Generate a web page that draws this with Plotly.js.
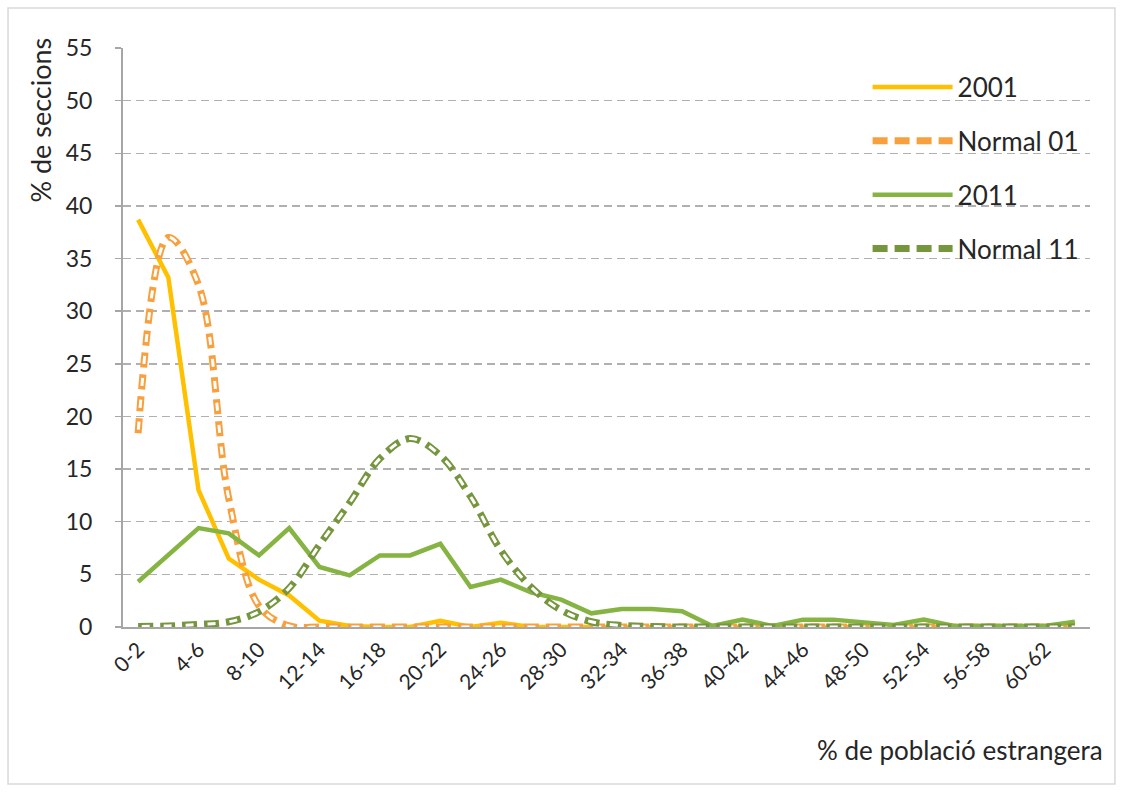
<!DOCTYPE html>
<html>
<head>
<meta charset="utf-8">
<script src="https://cdn.plot.ly/plotly-3.0.1.min.js"></script>
<style>html,body{margin:0;padding:0;background:#fff;}#chart{width:1123px;height:792px;}</style>
</head>
<body>
<div id="chart"></div>
<script>
const categories = ['0-2','2-4','4-6','6-8','8-10','10-12','12-14','14-16','16-18','18-20','20-22','22-24','24-26','26-28','28-30','30-32','32-34','34-36','36-38','38-40','40-42','42-44','44-46','46-48','48-50','50-52','52-54','54-56','56-58','58-60','60-62','62-64'];
const tickLabels = ['0-2','4-6','8-10','12-14','16-18','20-22','24-26','28-30','32-34','36-38','40-42','44-46','48-50','52-54','56-58','60-62'];
const s2001 = [38.7, 33.2, 13.0, 6.5, 4.5, 3.0, 0.6, 0.1, 0, 0, 0.6, 0, 0.4, 0, 0, 0, 0, 0, 0, 0, 0, 0, 0, 0, 0, 0, 0, 0, 0, 0, 0, 0];
const normal01 = [18.4, 37.0, 32.5, 12.2, 2.0, 0.1, 0, 0, 0, 0, 0, 0, 0, 0, 0, 0, 0, 0, 0, 0, 0, 0, 0, 0, 0, 0, 0, 0, 0, 0, 0, 0];
const s2011 = [4.3, 6.8, 9.4, 8.9, 6.8, 9.4, 5.7, 4.9, 6.8, 6.8, 7.9, 3.8, 4.5, 3.3, 2.6, 1.3, 1.7, 1.7, 1.5, 0.1, 0.7, 0.1, 0.7, 0.7, 0.4, 0.2, 0.7, 0.1, 0.1, 0.1, 0.1, 0.5];
const normal11 = [0.05, 0.1, 0.25, 0.5, 1.45, 3.7, 7.8, 11.8, 16.0, 17.9, 16.3, 12.4, 7.3, 3.8, 1.6, 0.5, 0.15, 0.05, 0, 0, 0, 0, 0, 0, 0, 0, 0, 0, 0, 0, 0, 0];
const yTicks = [0,5,10,15,20,25,30,35,40,45,50,55];

const FONT = 'Lato, "Open Sans", sans-serif';
const TXT = '#262626';
const outerDash = '15px,7px';
const innerDash = '0px,3.5px,8px,10.5px';

const traces = [
  {x: categories, y: s2001, name: '2001', mode: 'lines', legendgroup: 'a',
   line: {color: '#FFC000', width: 4.5}},
  {x: categories, y: normal01, name: 'Normal 01', mode: 'lines', legendgroup: 'b',
   line: {color: '#F9A03E', width: 7, dash: outerDash, shape: 'spline', smoothing: 1}},
  {x: categories, y: normal01, name: 'Normal 01 inner', mode: 'lines', legendgroup: 'b', showlegend: false,
   hoverinfo: 'skip', line: {color: '#ffffff', width: 3, dash: innerDash, shape: 'spline', smoothing: 1}},
  {x: categories, y: s2011, name: '2011', mode: 'lines', legendgroup: 'c',
   line: {color: '#86B443', width: 4.5}},
  {x: categories, y: normal11, name: 'Normal 11', mode: 'lines', legendgroup: 'd',
   line: {color: '#76963E', width: 7, dash: outerDash, shape: 'spline', smoothing: 1}},
  {x: categories, y: normal11, name: 'Normal 11 inner', mode: 'lines', legendgroup: 'd', showlegend: false,
   hoverinfo: 'skip', line: {color: '#ffffff', width: 3, dash: innerDash, shape: 'spline', smoothing: 1}}
];

const layout = {
  width: 1123, height: 792,
  paper_bgcolor: '#ffffff', plot_bgcolor: '#ffffff',
  margin: {l: 123, r: 33, t: 48, b: 165},
  font: {family: FONT, color: TXT, size: 20},
  showlegend: true,
  legend: {x: 0.77, y: 0.973, xanchor: 'left', yanchor: 'top', bgcolor: 'rgba(0,0,0,0)',
           font: {family: FONT, size: 26, color: TXT}, traceorder: 'grouped', tracegroupgap: 17, itemwidth: 80},
  xaxis: {type: 'category', categoryorder: 'array', categoryarray: categories,
          range: [-0.5, categories.length - 0.5],
          tickvals: tickLabels, ticktext: tickLabels, tickangle: -45,
          tickfont: {family: FONT, size: 21, color: TXT},
          showgrid: false, showline: true, linecolor: '#A6A6A6', linewidth: 2,
          ticks: '', zeroline: false, title: {text: ''}},
  yaxis: {range: [0, 55], tickvals: yTicks, ticktext: yTicks.map(String),
          tickfont: {family: FONT, size: 23, color: TXT},
          showgrid: true, gridcolor: '#B0B0B0', griddash: '8px,5px', gridwidth: 1.5,
          showline: true, linecolor: '#A6A6A6', linewidth: 2,
          ticks: 'outside', ticklen: 6, tickcolor: '#A6A6A6', tickwidth: 1.5,
          ticklabelstandoff: 18, zeroline: false, title: {text: ''}},
  annotations: [
    {text: '% de seccions', xref: 'paper', yref: 'paper', x: -0.085, y: 0.876, xanchor: 'center', yanchor: 'middle',
     textangle: -90, showarrow: false, font: {family: FONT, size: 27, color: TXT}},
    {text: '% de població estrangera', xref: 'paper', yref: 'paper', x: 1.0155, y: -0.2124, xanchor: 'right', yanchor: 'middle',
     showarrow: false, font: {family: FONT, size: 26, color: TXT}}
  ],
  shapes: [
    {type: 'rect', xref: 'paper', yref: 'paper', x0: -0.1189, x1: 1.0258, y0: -0.271, y1: 1.069,
     line: {color: '#D9D9D9', width: 1.5}, fillcolor: 'rgba(0,0,0,0)', layer: 'below'}
  ]
};

Plotly.newPlot('chart', traces, layout, {displayModeBar: false, staticPlot: true});
</script>
</body>
</html>
